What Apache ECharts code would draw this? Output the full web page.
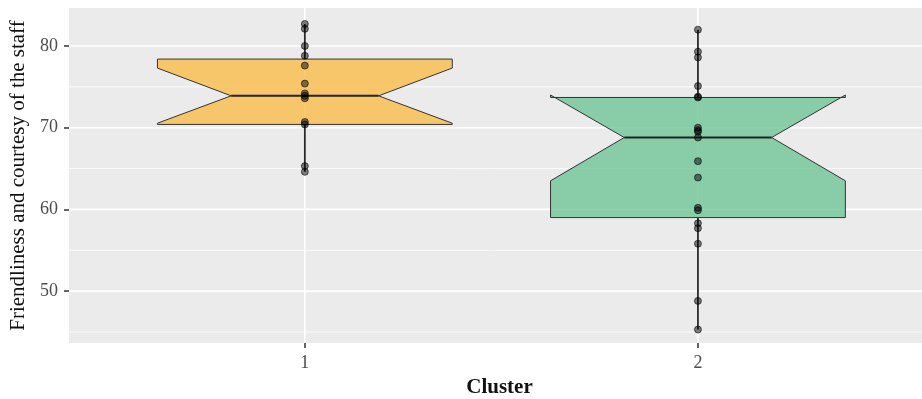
<!DOCTYPE html>
<html>
<head>
<meta charset="utf-8">
<script src="https://cdn.jsdelivr.net/npm/echarts@6/dist/echarts.min.js"></script>
<style>
html,body{margin:0;padding:0;background:#fff;}
#chart{width:922px;height:399px;}
</style>
</head>
<body>
<div id="chart"></div>
<script>
// ---- data ----
const categories = ['1', '2'];
const xPositions = [1, 2];
const lowerWhisker = [64.6, 45.3];
const q1 = [70.4, 59.0];
const notchLower = [70.55, 63.5];
const median = [73.9, 68.8];
const notchUpper = [77.3, 74.0];
const q3 = [78.4, 73.7];
const upperWhisker = [82.7, 82.0];
const cluster1Points = [82.7, 82.1, 80.0, 78.8, 77.6, 75.4, 74.2, 73.9, 73.6, 70.7, 70.4, 65.3, 64.6];
const cluster2Points = [82.0, 79.3, 78.6, 75.1, 73.8, 73.7, 70.0, 69.7, 69.5, 68.8, 65.9, 63.9, 60.2, 59.9, 58.3, 57.7, 55.8, 48.8, 45.3];
const yTickLabels = [50, 60, 70, 80];
const yMinorGrid = [45, 55, 65, 75];
const boxColors = ['rgba(250,189,75,0.8)', 'rgba(111,196,151,0.8)'];

const FONT = 'Liberation Serif';
const boxHalf = 0.375;
const notchHalf = 0.1875;

const boxData = xPositions.map((x, i) => [x, lowerWhisker[i], q1[i], notchLower[i], median[i], notchUpper[i], q3[i], upperWhisker[i], i]);
const pointData = [];
cluster1Points.forEach(v => pointData.push([xPositions[0], v]));
cluster2Points.forEach(v => pointData.push([xPositions[1], v]));

const hGrid = yTickLabels.map(v => [v, 1]).concat(yMinorGrid.map(v => [v, 0]));
const vGrid = xPositions.map(v => [v]);

const chart = echarts.init(document.getElementById('chart'), null, {renderer: 'canvas'});
chart.setOption({
  animation: false,
  grid: {left: 69, right: 0, top: 8, bottom: 56, show: true, backgroundColor: '#EBEBEB', borderWidth: 0,
    outerBoundsMode: 'none', containLabel: false},
  xAxis: {
    type: 'value', min: 0.4, max: 2.57,
    name: 'Cluster', nameLocation: 'middle', nameGap: 34,
    nameTextStyle: {fontFamily: FONT, fontSize: 21, fontWeight: 'bold', color: '#111', padding: [0, 0, 0, 8]},
    axisLine: {show: false},
    axisTick: {show: true, length: 5, lineStyle: {color: '#333', width: 1.5}, customValues: xPositions},
    axisLabel: {fontFamily: FONT, fontSize: 18, color: '#4D4D4D', margin: 11, customValues: xPositions,
      formatter: v => categories[xPositions.indexOf(v)]},
    splitLine: {show: false}
  },
  yAxis: {
    type: 'value', min: 43.65, max: 84.65,
    name: 'Friendliness and courtesy of the staff', nameLocation: 'middle', nameGap: 34,
    nameTextStyle: {fontFamily: FONT, fontSize: 21, color: '#111'},
    axisLine: {show: false},
    axisTick: {show: true, length: 5, lineStyle: {color: '#333', width: 1.5}, customValues: yTickLabels},
    axisLabel: {fontFamily: FONT, fontSize: 18, color: '#4D4D4D', margin: 11, customValues: yTickLabels},
    splitLine: {show: false}
  },
  series: [
    {
      type: 'custom', z: 1, silent: true, data: hGrid,
      renderItem: (params, api) => {
        const cs = params.coordSys;
        const y = api.coord([1, api.value(0)])[1];
        return {type: 'line', shape: {x1: cs.x, y1: y, x2: cs.x + cs.width, y2: y},
          style: {stroke: '#FFFFFF', lineWidth: api.value(1) ? 1.6 : 0.8}};
      }
    },
    {
      type: 'custom', z: 1, silent: true, data: vGrid,
      renderItem: (params, api) => {
        const cs = params.coordSys;
        const x = api.coord([api.value(0), 60])[0];
        return {type: 'line', shape: {x1: x, y1: cs.y, x2: x, y2: cs.y + cs.height},
          style: {stroke: '#FFFFFF', lineWidth: 1.6}};
      }
    },
    {
      type: 'custom', z: 2, silent: true, data: boxData,
      renderItem: (params, api) => {
        const x = api.value(0);
        const lw = api.value(1), a = api.value(2), nl = api.value(3), m = api.value(4), nu = api.value(5), b = api.value(6), uw = api.value(7);
        const idx = api.value(8);
        const P = (xx, yy) => api.coord([xx, yy]);
        const pts = [
          P(x - boxHalf, b), P(x - boxHalf, nu), P(x - notchHalf, m), P(x - boxHalf, nl), P(x - boxHalf, a),
          P(x + boxHalf, a), P(x + boxHalf, nl), P(x + notchHalf, m), P(x + boxHalf, nu), P(x + boxHalf, b)
        ];
        const top = P(x, uw), q3p = P(x, b), q1p = P(x, a), bot = P(x, lw);
        const ml = P(x - notchHalf, m), mr = P(x + notchHalf, m);
        return {type: 'group', children: [
          {type: 'line', shape: {x1: top[0], y1: top[1], x2: q3p[0], y2: q3p[1]}, style: {stroke: '#2a2a2a', lineWidth: 1.8}},
          {type: 'line', shape: {x1: q1p[0], y1: q1p[1], x2: bot[0], y2: bot[1]}, style: {stroke: '#2a2a2a', lineWidth: 1.8}},
          {type: 'polygon', shape: {points: pts}, style: {fill: boxColors[idx], stroke: '#333', lineWidth: 1}},
          {type: 'line', shape: {x1: ml[0], y1: ml[1], x2: mr[0], y2: mr[1]}, style: {stroke: '#222', lineWidth: 2}}
        ]};
      }
    },
    {
      type: 'scatter', z: 3, silent: true, data: pointData,
      symbol: 'circle', symbolSize: 7,
      itemStyle: {color: 'rgba(0,0,0,0.62)', borderColor: 'rgba(0,0,0,0.7)', borderWidth: 1}
    }
  ]
});
</script>
</body>
</html>
